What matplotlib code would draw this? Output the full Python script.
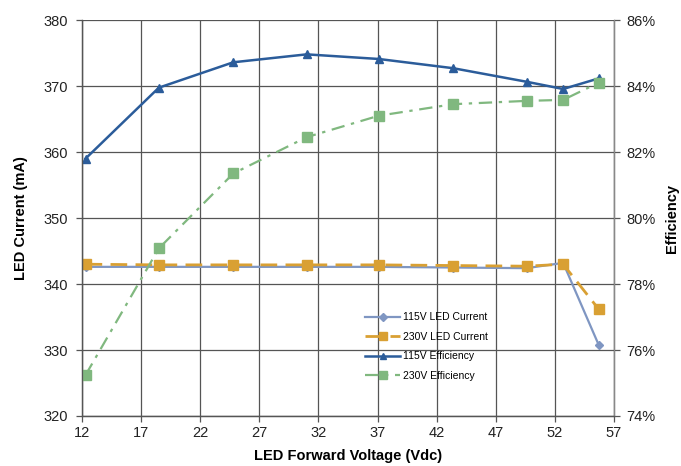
import matplotlib
matplotlib.use("Agg")
from matplotlib import pyplot as plt

plt.rcParams['font.family'] = ['Liberation Sans', 'DejaVu Sans']

# LED forward voltage (Vdc) at each measurement
voltage = [12.3, 18.5, 24.8, 31.0, 37.1, 43.4, 49.6, 52.7, 55.7]

# LED current (mA)
current_115 = [342.6, 342.6, 342.6, 342.6, 342.6, 342.5, 342.4, 343.2, 330.8]
current_230 = [343.0, 342.9, 342.9, 342.9, 342.9, 342.8, 342.7, 343.0, 336.2]

# Efficiency (%)
eff_115 = [81.8, 83.95, 84.72, 84.96, 84.82, 84.54, 84.13, 83.91, 84.23]
eff_230 = [75.24, 79.08, 81.35, 82.45, 83.10, 83.45, 83.55, 83.58, 84.10]

x_ticks = [12, 17, 22, 27, 32, 37, 42, 47, 52, 57]


def main():
    fig = plt.figure(figsize=(6.81, 4.66), dpi=100)
    ax = fig.add_axes([0.1204, 0.1073, 0.7812, 0.8497])
    ax2 = ax.twinx()

    grid_color = '#555555'
    ax.set_xlim(12, 57)
    ax.set_ylim(320, 380)
    ax.set_xticks(x_ticks)
    ax.set_yticks(range(320, 381, 10))
    ax2.set_ylim(74, 86)
    ax2.set_yticks(range(74, 87, 2))
    ax2.set_yticklabels([f"{v}%" for v in range(74, 87, 2)])
    ax.grid(True, color=grid_color, linewidth=0.9)
    ax.set_axisbelow(True)

    for a in (ax, ax2):
        for side in ('top', 'left', 'right', 'bottom'):
            a.spines[side].set_color(grid_color)
            a.spines[side].set_linewidth(0.9)
        a.spines['top'].set_visible(False)
        a.tick_params(labelsize=10.5, color=grid_color, length=4, width=0.9,
                      labelcolor='#222222')
    ax.tick_params(axis='y', pad=6)
    ax2.tick_params(axis='y', pad=5)
    ax2.spines['right'].set_color('#888888')

    ax.plot(voltage, current_115, color='#7f96c2', marker='D', markersize=4.5,
            linewidth=1.6, label='115V LED Current')
    ax.plot(voltage, current_230, color='#d9a033', marker='s', markersize=7,
            linewidth=2.0, dashes=(6, 3), label='230V LED Current')
    l3, = ax2.plot(voltage, eff_115, color='#2b5c9a', marker='^', markersize=6,
                   linewidth=1.8, label='115V Efficiency')
    l4, = ax2.plot(voltage, eff_230, color='#80b87f', marker='s', markersize=7,
                   linewidth=1.6, dashes=(6, 3, 1.5, 3), label='230V Efficiency')

    ax.set_xlabel("LED Forward Voltage (Vdc)", fontsize=10.5, fontweight='bold',
                  labelpad=6)
    ax.set_ylabel("LED Current (mA)", fontsize=10.5, fontweight='bold',
                  labelpad=11)
    ax2.set_ylabel("Efficiency", fontsize=10.5, fontweight='bold', labelpad=7)

    h1, lab1 = ax.get_legend_handles_labels()
    ax2.legend(h1 + [l3, l4], lab1 + [l3.get_label(), l4.get_label()],
               loc='upper left', bbox_to_anchor=(0.525, 0.272), frameon=False,
               fontsize=7.5, handlelength=3.3, labelspacing=0.9, markerscale=0.8,
               borderaxespad=0, handletextpad=0.3)

    fig.savefig("out.png", dpi=100)


if __name__ == "__main__":
    main()
